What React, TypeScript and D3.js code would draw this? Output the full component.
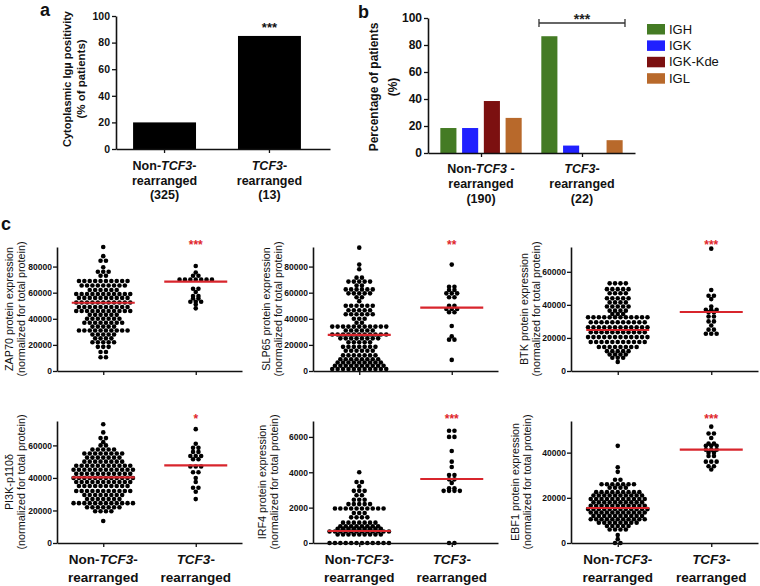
import React, { useRef, useEffect } from 'react';
import * as d3 from 'd3';

const FONT = 'Arial, "Liberation Sans", Helvetica, sans-serif';

// ---------- panel a: cytoplasmic Igµ positivity (% of patients)
const aGroups = ['non', 'tcf3'];
const aValues = [20, 85];
const aCounts = ['(325)', '(13)'];
const aTicks = [0, 20, 40, 60, 80, 100];

// ---------- panel b: percentage of patients with rearrangement
const bGroups = ['non', 'tcf3'];
const bSeries = ['IGH', 'IGK', 'IGK-Kde', 'IGL'];
const bColors = ['#447b24', '#2020ff', '#7c1010', '#b8692b'];
const bNon = [18.5, 18.5, 38.5, 26];
const bTcf3 = [86.5, 5.5, 0, 9.5];
const bCounts = ['(190)', '(22)'];
const bTicks = [0, 20, 40, 60, 80, 100];

// ---------- panel c: protein expression (normalized for total protein)
// values in thousands, except IRF4 (raw)
const zap70Non = [
  95, 88, 84.5, 84.5, 79.5, 76, 76, 76, 73, 73,
  69, 69, 69, 69, 69, 69, 69, 69, 69, 69,
  65.5, 65.5, 65.5, 65.5, 65.5, 65.5, 65.5, 65.5, 65.5,
  62, 62, 62, 62, 62, 62,
  59, 59, 59, 59, 59, 59, 59, 59, 59, 59, 59,
  56, 56, 56, 56, 56, 56, 56, 56, 56, 56,
  52.5, 52.5, 52.5, 52.5, 52.5, 52.5, 52.5, 52.5, 52.5, 52.5, 52.5,
  49, 49, 49, 49, 49, 49, 49, 49, 49, 49,
  46, 46, 46, 46, 46, 46, 46, 46, 46, 46, 46,
  43, 43, 43, 43, 43, 43,
  40, 40, 40, 40, 40, 40, 40,
  37, 37, 37, 37, 37, 37, 37, 37,
  34, 34, 34, 34, 34,
  31, 31, 31, 31, 31, 31, 31, 31, 31, 31,
  28, 28, 28, 28, 28,
  25, 25, 25, 25,
  22, 22, 22, 22, 22,
  18.5, 18.5, 18.5, 14.5, 14.5, 10.5, 10.5,
];
const zap70Tcf3 = [
  80.5, 75.5, 73, 73, 70, 70, 70, 70, 70, 70, 70,
  63, 63, 60.5, 57.5, 57.5, 55.5, 55.5, 53, 53, 53, 51, 48,
];
const zap70Median = [52.3, 68.4];

const slp65Non = [
  94.5, 81.5, 78, 71.5, 71.5,
  68.5, 68.5, 68.5, 68.5, 68.5, 65.5, 65.5,
  62.5, 62.5, 62.5, 62.5, 62.5, 62.5,
  59.5, 59.5, 59.5, 59.5, 59.5,
  56.5, 56.5, 53.5,
  50, 50, 50, 50, 50, 50,
  46.5, 46.5, 46.5, 46.5, 46.5,
  43.5, 43.5, 43.5, 43.5, 43.5, 43.5,
  40, 40, 40, 37, 37,
  34, 34, 34, 34, 34, 34, 34, 34, 34, 34, 34,
  31, 31, 31, 31, 31, 31,
  28, 28, 28, 28, 28, 28, 28, 28, 28, 28, 28,
  25, 25, 25, 25, 25, 25, 25, 25,
  22, 22, 22, 22, 22,
  18.5, 18.5, 18.5, 18.5, 18.5, 18.5, 18.5,
  15.5, 15.5, 15.5, 15.5, 15.5, 15.5,
  12, 12, 12, 12, 12, 12, 12,
  9, 9, 9, 9, 9, 9, 9, 9,
  6.5, 6.5, 6.5, 6.5, 6.5, 6.5, 6.5, 6.5, 6.5,
  4, 4, 4, 4, 4, 4, 4, 4, 4, 4,
  1.5, 1.5, 1.5, 1.5, 1.5, 1.5, 1.5, 1.5, 1.5, 1.5, 1.5,
];
const slp65Tcf3 = [
  81.5, 64.5, 64.5, 62, 62, 59.5, 59.5, 59.5, 56.5, 56.5,
  50, 50, 47.5, 47.5, 47.5, 45, 45, 34.5, 26.5, 24, 24, 8.5,
];
const slp65Median = [27.7, 48.5];

const btkNon = [
  53, 53, 53, 53,
  49.5, 49.5, 49.5, 49.5, 49.5,
  47, 47, 47, 47,
  44, 44, 44, 44, 44,
  41.5, 41.5, 41.5, 41.5,
  39, 39, 39, 39, 39,
  36.5, 36.5, 36.5, 36.5,
  34.5, 34.5, 34.5,
  32.5, 32.5, 32.5, 32.5, 32.5, 32.5, 32.5, 32.5, 32.5, 32.5, 32.5, 32.5,
  29.5, 29.5, 29.5, 29.5, 29.5, 29.5, 29.5, 29.5, 29.5, 29.5, 29.5,
  26.5, 26.5, 26.5, 26.5, 26.5, 26.5, 26.5, 26.5, 26.5, 26.5, 26.5, 26.5,
  23.5, 23.5, 23.5, 23.5, 23.5, 23.5, 23.5, 23.5, 23.5, 23.5, 23.5,
  20.5, 20.5, 20.5, 20.5, 20.5, 20.5, 20.5, 20.5, 20.5, 20.5, 20.5, 20.5,
  17.5, 17.5, 17.5, 17.5, 17.5, 17.5, 17.5, 17.5, 17.5, 17.5, 17.5,
  14.5, 14.5, 14.5, 14.5, 14.5, 14.5, 14.5, 14.5,
  12, 12, 12, 12, 12, 10, 10, 10, 10, 8, 8, 8, 5.5,
];
const btkTcf3 = [
  74, 49, 45.5, 45.5, 43.5, 39, 37, 37, 37, 35.5, 35.5,
  33, 33, 30, 30, 27.5, 25, 25, 22.5, 22.5, 22.5,
];
const btkMedian = [24.8, 35.7];

const pi3kNon = [
  73, 68, 64.5, 64.5, 62, 60, 60,
  57.5, 57.5, 57.5, 57.5, 57.5,
  55, 55, 55, 55, 55, 55, 55, 55,
  52.5, 52.5, 52.5, 52.5, 52.5, 52.5, 52.5,
  50, 50, 50, 50, 50, 50, 50, 50,
  47.5, 47.5, 47.5, 47.5, 47.5, 47.5, 47.5, 47.5, 47.5, 47.5, 47.5,
  45, 45, 45, 45, 45, 45, 45, 45, 45, 45, 45, 45,
  42.5, 42.5, 42.5, 42.5, 42.5, 42.5, 42.5, 42.5, 42.5, 42.5, 42.5,
  40, 40, 40, 40, 40, 40, 40, 40, 40, 40, 40, 40,
  37.5, 37.5, 37.5, 37.5, 37.5, 37.5, 37.5, 37.5, 37.5, 37.5, 37.5,
  35, 35, 35, 35, 35, 35, 35, 35, 35, 35,
  32, 32, 32, 32, 32, 32, 32, 32, 32, 32, 32,
  29.5, 29.5, 29.5, 29.5, 29.5, 29.5, 29.5, 29.5,
  27, 27, 27, 27, 27, 27, 27,
  24.5, 24.5, 24.5, 24.5, 24.5, 24.5, 24.5, 24.5, 24.5, 24.5, 24.5, 24.5,
  22, 22, 22, 22, 22, 22, 22,
  19.5, 19.5, 19.5, 19.5, 13.5,
];
const pi3kTcf3 = [
  70, 61, 58.5, 58.5, 56, 56, 53.5, 53.5, 53.5, 51.5, 51.5, 47, 47, 47,
  43.5, 43.5, 40, 37.5, 34, 34, 31.5, 27,
];
const pi3kMedian = [40.3, 47.7];

const irf4Non = [
  4000, 3450, 3450, 3200, 2950, 2950, 2950, 2700, 2700,
  2450, 2450, 2450, 2200, 2200, 2200, 2200, 2200,
  1950, 1950, 1950, 1950, 1950, 1950, 1950, 1950, 1950, 1950,
  1700, 1700, 1700, 1450, 1450, 1450, 1450,
  1150, 1150, 1150, 1150, 1150, 1150, 1150,
  950, 950, 950, 950, 950, 950, 950, 950,
  800, 800, 800, 800, 800, 800, 800, 800, 800,
  650, 650, 650, 650, 650, 650, 650, 650, 650, 650, 650, 650,
  480, 480, 480, 480, 480, 480, 480, 480, 480,
  0, 0, 0, 0, 0, 0, 0, 0, 0, 0, 0, 0,
];
const irf4Tcf3 = [
  6350, 6350, 6000, 6000, 5200, 4600, 4300, 3850, 3850, 3600, 3600,
  3400, 3100, 3100, 2950, 2950, 2950, 2950, 0, 0,
];
const irf4Median = [680, 3620];

const ebf1Non = [
  43, 33.5, 31.5, 28, 28,
  26, 26, 26, 26, 26, 26, 26,
  24.5, 24.5, 24.5, 24.5,
  22.5, 22.5, 22.5, 22.5, 22.5, 22.5, 22.5, 22.5, 22.5,
  21, 21, 21, 21, 21, 21, 21, 21, 21, 21,
  19.5, 19.5, 19.5, 19.5, 19.5, 19.5, 19.5, 19.5, 19.5, 19.5, 19.5,
  18, 18, 18, 18, 18, 18, 18, 18, 18, 18,
  16.5, 16.5, 16.5, 16.5, 16.5, 16.5, 16.5, 16.5, 16.5, 16.5, 16.5,
  15, 15, 15, 15, 15, 15, 15, 15, 15, 15, 15, 15,
  13.5, 13.5, 13.5, 13.5, 13.5, 13.5, 13.5, 13.5, 13.5, 13.5, 13.5,
  12, 12, 12, 12, 12, 12, 12, 12, 12, 12,
  10.5, 10.5, 10.5, 10.5, 10.5, 10.5, 10.5, 10.5, 10.5, 10.5, 10.5,
  9, 9, 9, 9, 9, 9, 9, 9,
  7.5, 7.5, 7.5, 7.5, 7.5, 6, 6, 6, 6,
  3.5, 1.7, 0, 0,
];
const ebf1Tcf3 = [
  51.5, 48.5, 48.5, 46.5, 44, 44, 43, 43, 43, 41.3, 41.3, 41.3,
  40, 40, 38.5, 38.5, 36, 36, 36, 34, 34, 32.5,
];
const ebf1Median = [15.5, 41.3];

const cGroups = ['non', 'tcf3'];

const cPanels = [
  { label: 'ZAP70 protein expression', non: zap70Non, tcf: zap70Tcf3, med: zap70Median, unit: 1000, max: 95, ticks: [0, 20, 40, 60, 80], star: '***', ax: 57, right: 242, top: 247, bottom: 371, lx: 13 },
  { label: 'SLP65 protein expression', non: slp65Non, tcf: slp65Tcf3, med: slp65Median, unit: 1000, max: 95, ticks: [0, 20, 40, 60, 80], star: '**', ax: 313, right: 498, top: 247, bottom: 371, lx: 270 },
  { label: 'BTK protein expression', non: btkNon, tcf: btkTcf3, med: btkMedian, unit: 1000, max: 75, ticks: [0, 20, 40, 60], star: '***', ax: 571, right: 758, top: 247, bottom: 371, lx: 528 },
  { label: 'PI3K-p110δ', non: pi3kNon, tcf: pi3kTcf3, med: pi3kMedian, unit: 1000, max: 75, ticks: [0, 20, 40, 60], star: '*', ax: 57, right: 242, top: 421, bottom: 543, lx: 13 },
  { label: 'IRF4 protein expression', non: irf4Non, tcf: irf4Tcf3, med: irf4Median, unit: 1, max: 6900, ticks: [0, 2000, 4000, 6000], star: '***', ax: 313, right: 498, top: 421, bottom: 543, lx: 266 },
  { label: 'EBF1 protein expression', non: ebf1Non, tcf: ebf1Tcf3, med: ebf1Median, unit: 1000, max: 54, ticks: [0, 20, 40], star: '***', ax: 571, right: 758, top: 421, bottom: 543, lx: 519 },
];

const DOT = 5.4;
const R = 2.3;
const HALF = 31.5;

type Sel = d3.Selection<SVGGElement, unknown, null, undefined>;

function styleAxis(g: Sel, fontSize: number) {
  g.select('.domain').attr('stroke', '#111').attr('stroke-width', 1.6);
  g.selectAll('.tick line').attr('stroke', '#111').attr('stroke-width', 1.3);
  g.selectAll('.tick text')
    .attr('fill', '#111')
    .style('font-family', FONT)
    .style('font-weight', 'bold')
    .style('font-size', `${fontSize}px`);
}

function catLabel(root: Sel, x: number, y: number, isNon: boolean, count: string | null, size: number, lineH: number, spaced: boolean) {
  const g = root.append('g')
    .attr('text-anchor', 'middle')
    .style('font-family', FONT)
    .style('font-weight', 'bold')
    .style('font-size', `${size}px`)
    .attr('fill', '#111');
  const t = g.append('text').attr('x', x).attr('y', y);
  if (isNon) t.append('tspan').text('Non-');
  t.append('tspan').attr('font-style', 'italic').text('TCF3');
  t.append('tspan').text(isNon && spaced ? ' -' : '-');
  g.append('text').attr('x', x).attr('y', y + lineH).text('rearranged');
  if (count) g.append('text').attr('x', x).attr('y', y + 2 * lineH).text(count);
}

function yTitle(root: Sel, x: number, cy: number, text: string, size: number, bold: boolean) {
  root.append('text')
    .attr('transform', `translate(${x},${cy}) rotate(-90)`)
    .attr('text-anchor', 'middle')
    .style('font-family', FONT)
    .style('font-weight', bold ? 'bold' : 'normal')
    .style('font-size', `${size}px`)
    .attr('fill', '#111')
    .text(text);
}

const Figure: React.FC = () => {
  const svgRef = useRef<SVGSVGElement | null>(null);

  useEffect(() => {
    if (!svgRef.current) return;
    const svg = d3.select(svgRef.current);
    svg.selectAll('*').remove();
    const root = svg.append('g') as unknown as Sel;

    // panel letters
    const letters: [string, number, number][] = [['a', 40, 16], ['b', 358, 18], ['c', 1, 230]];
    letters.forEach(([t, x, y]) => {
      root.append('text').attr('x', x).attr('y', y)
        .style('font-family', FONT).style('font-weight', 'bold').style('font-size', '18px')
        .attr('fill', '#111').text(t);
    });

    // ---------------- panel a
    const ay = d3.scaleLinear().domain([0, 100]).range([149, 16]);
    const ax = d3.scaleBand().domain(aGroups).range([116, 330])
      .paddingInner(0.4).paddingOuter(0.22).align(0.37);
    root.append('g').selectAll('rect').data(aValues).enter().append('rect')
      .attr('x', (_, i) => ax(aGroups[i]) ?? 0)
      .attr('y', d => ay(d))
      .attr('width', ax.bandwidth())
      .attr('height', d => ay(0) - ay(d))
      .attr('fill', '#000');
    const aYAxis = root.append('g').attr('transform', 'translate(116,0)')
      .call(d3.axisLeft(ay).tickValues(aTicks).tickSize(4).tickSizeOuter(0).tickPadding(2)) as Sel;
    styleAxis(aYAxis, 10.5);
    const aXAxis = root.append('g').attr('transform', `translate(0,${ay(0)})`)
      .call(d3.axisBottom(ax).tickSize(4).tickSizeOuter(0).tickFormat(() => '')) as Sel;
    styleAxis(aXAxis, 10);
    root.append('text').attr('x', (ax('tcf3') ?? 0) + ax.bandwidth() / 2).attr('y', ay(aValues[1]) - 4)
      .attr('text-anchor', 'middle').style('font-family', FONT).style('font-weight', 'bold')
      .style('font-size', '13px').attr('fill', '#111').text('***');
    aGroups.forEach((gname, i) => {
      catLabel(root, (ax(gname) ?? 0) + ax.bandwidth() / 2, 170, i === 0, aCounts[i], 12.5, 14.5, false);
    });
    yTitle(root, 71, 79, 'Cytoplasmic Igµ positivity', 11, true);
    yTitle(root, 85, 79, '(% of patients)', 11.5, true);

    // ---------------- panel b
    const by = d3.scaleLinear().domain([0, 100]).range([153, 18]);
    const bx0 = d3.scalePoint().domain(bGroups).range([428, 635]).padding(0.525);
    const bx1 = d3.scaleBand().domain(bSeries).range([-43.5, 43.5]).paddingInner(0.26).paddingOuter(0.13);
    [bNon, bTcf3].forEach((vals, gi) => {
      root.append('g').selectAll('rect').data(vals).enter().append('rect')
        .attr('x', (_, i) => (bx0(bGroups[gi]) ?? 0) + (bx1(bSeries[i]) ?? 0))
        .attr('y', d => by(d))
        .attr('width', bx1.bandwidth())
        .attr('height', d => by(0) - by(d))
        .attr('fill', (_, i) => bColors[i]);
    });
    const bYAxis = root.append('g').attr('transform', 'translate(428,0)')
      .call(d3.axisLeft(by).tickValues(bTicks).tickSize(4).tickSizeOuter(0).tickPadding(2)) as Sel;
    styleAxis(bYAxis, 12);
    const bXAxis = root.append('g').attr('transform', `translate(0,${by(0)})`)
      .call(d3.axisBottom(bx0).tickSize(4).tickSizeOuter(0).tickFormat(() => '')) as Sel;
    styleAxis(bXAxis, 10);
    // significance bracket over TCF3 group
    const bc = bx0('tcf3') ?? 0;
    const br = root.append('g').attr('stroke', '#333').attr('stroke-width', 1.3);
    br.append('line').attr('x1', bc - 43).attr('x2', bc + 43).attr('y1', 23).attr('y2', 23);
    br.append('line').attr('x1', bc - 43).attr('x2', bc - 43).attr('y1', 19).attr('y2', 27);
    br.append('line').attr('x1', bc + 43).attr('x2', bc + 43).attr('y1', 19).attr('y2', 27);
    root.append('text').attr('x', bc).attr('y', 24).attr('text-anchor', 'middle')
      .style('font-family', FONT).style('font-weight', 'bold').style('font-size', '14px')
      .attr('fill', '#222').text('***');
    bGroups.forEach((gname, i) => {
      catLabel(root, bx0(gname) ?? 0, 173, i === 0, bCounts[i], 12.5, 15, true);
    });
    yTitle(root, 378, 87, 'Percentage of patients', 12, true);
    yTitle(root, 397, 87, '(%)', 12, true);
    // legend
    const lg = root.append('g').attr('transform', 'translate(647,24)');
    bSeries.forEach((s, i) => {
      lg.append('rect').attr('x', 0).attr('y', i * 16.4).attr('width', 18).attr('height', 10.5).attr('fill', bColors[i]);
      lg.append('text').attr('x', 22).attr('y', i * 16.4 + 9.5)
        .style('font-family', FONT).style('font-size', '13px').attr('fill', '#111').text(s);
    });

    // ---------------- panel c
    cPanels.forEach((p, pi) => {
      const g = root.append('g');
      const y = d3.scaleLinear().domain([0, p.max]).range([p.bottom, p.top]);
      const x = d3.scalePoint().domain(cGroups).range([p.ax, p.right]).padding(0.5);
      [p.non, p.tcf].forEach((vals, gi) => {
        const cx = x(cGroups[gi]) ?? 0;
        // dots sharing a value form a centred row, as in a GraphPad scatter dot plot
        const rows = d3.groups(vals, v => v);
        const pts: { x: number; y: number }[] = [];
        rows.forEach(([v, arr]) => {
          arr.forEach((_, i) => pts.push({ x: cx + (i - (arr.length - 1) / 2) * DOT, y: y(v) }));
        });
        g.append('g').selectAll('circle').data(pts).enter().append('circle')
          .attr('cx', d => d.x).attr('cy', d => d.y).attr('r', R).attr('fill', '#000');
      });
      const yAxis = g.append('g').attr('transform', `translate(${p.ax},0)`)
        .call(d3.axisLeft(y).tickValues(p.ticks).tickSize(4).tickSizeOuter(0).tickPadding(1)
          .tickFormat(d => String(Math.round(+d * p.unit)))) as Sel;
      styleAxis(yAxis, 8.5);
      const xAxis = g.append('g').attr('transform', `translate(0,${p.bottom})`)
        .call(d3.axisBottom(x).tickSize(4).tickSizeOuter(0).tickFormat(() => '')) as Sel;
      styleAxis(xAxis, 8);
      // medians
      p.med.forEach((m, gi) => {
        const cx = x(cGroups[gi]) ?? 0;
        g.append('line').attr('x1', cx - HALF).attr('x2', cx + HALF)
          .attr('y1', y(m)).attr('y2', y(m))
          .attr('stroke', '#d8252c').attr('stroke-width', 2.2);
      });
      // significance stars
      g.append('text').attr('x', x('tcf3') ?? 0).attr('y', p.top + 2)
        .attr('text-anchor', 'middle').style('font-family', FONT).style('font-weight', 'bold')
        .style('font-size', '12px').attr('fill', '#e0262c').text(p.star);
      const cy = (p.top + p.bottom) / 2;
      yTitle(g, p.lx, cy, p.label, 10.8, false);
      yTitle(g, p.lx + 12, cy, '(normalized for total protein)', 10.8, false);
      if (pi >= 3) {
        cGroups.forEach((gname, i) => {
          catLabel(g, x(gname) ?? 0, 564, i === 0, null, 13.5, 17.5, false);
        });
      }
    });
  }, []);

  return (
    <svg
      ref={svgRef}
      width={760}
      height={586}
      style={{ position: 'absolute', left: 0, top: 0, background: '#fff' }}
    />
  );
};

export default function App() {
  return <Figure />;
}
